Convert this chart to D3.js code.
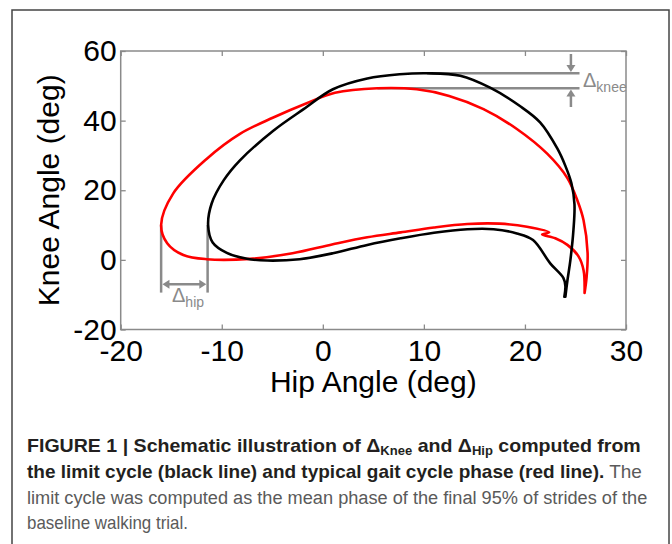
<!DOCTYPE html>
<html>
<head>
<meta charset="utf-8">
<script src="https://cdn.jsdelivr.net/npm/d3@7"></script>
<style>
  html, body { margin: 0; padding: 0; background: #fff; }
  svg { display: block; }
</style>
</head>
<body>
<svg id="chart" width="672" height="544"></svg>
<script>
// ---------- data ----------
const xTicks = [-20, -10, 0, 10, 20, 30];
const yTicks = [-20, 0, 20, 40, 60];

// limit cycle (black line)
const limitHip  = [24.0, 24.2, 24.5, 24.8, 24.9, 24.6, 24.0, 23.2, 21.5, 19.5, 16.6, 13.6, 10.3, 7.6, 4.4, 1.0, -1.9, -4.9, -8.2, -9.8, -11.0, -11.35, -10.9, -9.5, -7.5, -5.5, -2.3, 1.0, 4.4, 7.7, 11.0, 14.3, 16.9, 19.2, 20.8, 22.5, 23.8, 24.0, 23.9];
const limitKnee = [-10.6, -6.0, 0.0, 8.6, 16.0, 22.0, 27.0, 32.0, 39.5, 44.2, 49.4, 52.9, 53.6, 53.3, 52.1, 49.0, 43.3, 37.1, 28.6, 22.9, 16.2, 10.0, 5.0, 2.0, 0.3, -0.2, 0.2, 1.9, 4.3, 6.2, 7.8, 8.8, 8.8, 7.6, 5.7, -1.0, -5.2, -7.5, -10.6];

// typical gait cycle phase (red line)
const gaitHip  = [25.9, 26.1, 26.2, 25.8, 25.2, 24.2, 22.2, 19.2, 15.9, 12.5, 9.3, 5.4, 1.2, -1.6, -4.9, -8.2, -11.5, -14.8, -16.0, -15.4, -13.8, -11.5, -7.2, -3.0, 1.0, 4.4, 7.7, 11.0, 14.3, 17.5, 20.2, 22.4, 21.7, 23.0, 24.2, 25.3, 25.8, 25.9];
const gaitKnee = [-9.5, -5.0, 2.0, 11.4, 17.0, 23.5, 30.5, 37.6, 43.3, 47.1, 49.0, 49.3, 48.0, 45.0, 40.9, 36.2, 29.0, 19.1, 10.0, 4.8, 1.4, 0.2, 0.3, 1.9, 4.5, 6.5, 7.9, 9.3, 10.3, 10.4, 9.5, 7.9, 7.3, 6.2, 4.3, 1.0, -3.0, -9.5];

// annotation values (data units)
const kneeMax = [10.3, 53.6];    // limit cycle peak: hip, knee
const kneeMaxGait = [5.4, 49.3]; // gait peak: hip, knee
const kneeLineEnd = 25.4;
const kneeArrowHip = 24.55;
const hipMin = [-11.4, 10.0];    // limit cycle min hip
const hipMinGait = [-16.0, 10.0];
const hipLineBottom = -9.4;
const hipArrowKnee = -7.0;

// ---------- drawing ----------
const svg = d3.select("#chart");
const grey = "#8a8a8a";
const font = "'Liberation Sans', Arial, Helvetica, sans-serif";

// outer frame
svg.append("rect").attr("x", 12).attr("y", 10).attr("width", 657).attr("height", 560)
  .attr("fill", "none").attr("stroke", "#444").attr("stroke-width", 1.5);

const x = d3.scaleLinear().domain([-20, 30]).range([120.7, 626]);
const y = d3.scaleLinear().domain([-20, 60]).range([329.5, 51]);

const g = svg.append("g");
const fmt = d => String(d);

// axes
function styleAxis(sel, showText) {
  sel.select(".domain").remove();
  sel.selectAll(".tick line").attr("stroke", grey).attr("stroke-width", 1.3);
  sel.selectAll(".tick text").attr("fill", "#000").attr("font-family", font).attr("font-size", 30);
  if (!showText) sel.selectAll(".tick text").remove();
}
g.append("g").attr("transform", `translate(0,${y(-20)})`)
  .call(d3.axisBottom(x).tickValues(xTicks).tickFormat(fmt).tickSizeInner(-5).tickSizeOuter(0).tickPadding(10))
  .call(s => styleAxis(s, true));
g.append("g").attr("transform", `translate(${x(-20)},0)`)
  .call(d3.axisLeft(y).tickValues(yTicks).tickFormat(fmt).tickSizeInner(-5).tickSizeOuter(0).tickPadding(4))
  .call(s => styleAxis(s, true));
g.append("g").attr("transform", `translate(0,${y(60)})`)
  .call(d3.axisTop(x).tickValues(xTicks).tickSizeInner(-5).tickSizeOuter(0))
  .call(s => styleAxis(s, false));
g.append("g").attr("transform", `translate(${x(30)},0)`)
  .call(d3.axisRight(y).tickValues(yTicks).tickSizeInner(-5).tickSizeOuter(0))
  .call(s => styleAxis(s, false));

// box
g.append("rect").attr("x", x(-20)).attr("y", y(60)).attr("width", x(30) - x(-20)).attr("height", y(-20) - y(60))
  .attr("fill", "none").attr("stroke", grey).attr("stroke-width", 1.5);

// axis titles
g.append("text").attr("x", (x(-20) + x(30)) / 2).attr("y", 392).attr("text-anchor", "middle")
  .attr("font-family", font).attr("font-size", 30).attr("fill", "#000").text("Hip Angle (deg)");
g.append("text").attr("transform", `translate(59,${(y(-20) + y(60)) / 2}) rotate(-90)`).attr("text-anchor", "middle")
  .attr("font-family", font).attr("font-size", 30).attr("fill", "#000").text("Knee Angle (deg)");

// annotation lines (grey), drawn under the curves
const ann = g.append("g").attr("stroke", grey).attr("stroke-width", 2.5).attr("fill", "none");
ann.append("line").attr("x1", x(kneeMax[0])).attr("x2", x(kneeLineEnd)).attr("y1", y(kneeMax[1])).attr("y2", y(kneeMax[1]));
ann.append("line").attr("x1", x(kneeMaxGait[0])).attr("x2", x(kneeLineEnd)).attr("y1", y(kneeMaxGait[1])).attr("y2", y(kneeMaxGait[1]));
ann.append("line").attr("x1", x(hipMin[0])).attr("x2", x(hipMin[0])).attr("y1", y(hipMin[1])).attr("y2", y(hipLineBottom));
ann.append("line").attr("x1", x(hipMinGait[0])).attr("x2", x(hipMinGait[0])).attr("y1", y(hipMinGait[1])).attr("y2", y(hipLineBottom));

// curves
const line = d3.line().x(d => x(d[0])).y(d => y(d[1])).curve(d3.curveCatmullRom.alpha(0.5));
const limitPts = limitHip.map((h, i) => [h, limitKnee[i]]);
const gaitPts = gaitHip.map((h, i) => [h, gaitKnee[i]]);
g.append("path").datum(gaitPts).attr("d", line).attr("fill", "none").attr("stroke", "#ff0000")
  .attr("stroke-width", 2.6).attr("stroke-linejoin", "round").attr("stroke-linecap", "round");
g.append("path").datum(limitPts).attr("d", line).attr("fill", "none").attr("stroke", "#000")
  .attr("stroke-width", 2.6).attr("stroke-linejoin", "round").attr("stroke-linecap", "round");

// arrows
const arr = g.append("g");
const ax = x(kneeArrowHip);
const yTop = y(kneeMax[1]) - 1.3, yBot = y(kneeMaxGait[1]) + 1.3;
arr.append("line").attr("x1", ax).attr("x2", ax).attr("y1", 54).attr("y2", yTop - 5).attr("stroke", grey).attr("stroke-width", 2.5);
arr.append("path").attr("d", `M${ax - 4.5},${yTop - 7}L${ax + 4.5},${yTop - 7}L${ax},${yTop}Z`).attr("fill", grey);
arr.append("line").attr("x1", ax).attr("x2", ax).attr("y1", 107).attr("y2", yBot + 5).attr("stroke", grey).attr("stroke-width", 2.5);
arr.append("path").attr("d", `M${ax - 4.5},${yBot + 7}L${ax + 4.5},${yBot + 7}L${ax},${yBot}Z`).attr("fill", grey);

const hy = y(hipArrowKnee);
const hl = x(hipMinGait[0]) + 1.3, hr = x(hipMin[0]) - 1.3;
arr.append("line").attr("x1", hl + 5).attr("x2", hr - 5).attr("y1", hy).attr("y2", hy).attr("stroke", grey).attr("stroke-width", 2.5);
arr.append("path").attr("d", `M${hl + 7},${hy - 4.5}L${hl + 7},${hy + 4.5}L${hl},${hy}Z`).attr("fill", grey);
arr.append("path").attr("d", `M${hr - 7},${hy - 4.5}L${hr - 7},${hy + 4.5}L${hr},${hy}Z`).attr("fill", grey);

// delta labels
const t1 = g.append("text").attr("x", 583).attr("y", 87).attr("font-family", font).attr("fill", grey).attr("font-size", 20);
t1.append("tspan").text("Δ");
t1.append("tspan").attr("font-size", 14).attr("dy", 5).text("knee");
const t2 = g.append("text").attr("x", 172).attr("y", 302).attr("font-family", font).attr("fill", grey).attr("font-size", 20);
t2.append("tspan").text("Δ");
t2.append("tspan").attr("font-size", 14).attr("dy", 5).text("hip");

// caption
const cap = svg.append("g").attr("font-family", font).attr("font-size", 18);
function capLine(yb, parts, width) {
  const t = cap.append("text").attr("x", 0).attr("y", 0);
  let shifted = false;
  parts.forEach(p => {
    const ts = t.append("tspan").text(p.t)
      .attr("font-weight", p.b ? "bold" : "normal")
      .attr("fill", p.b ? "#231f20" : "#5a5a5a");
    if (p.sub) { ts.attr("font-size", 12).attr("dy", 3); shifted = true; }
    else if (shifted) { ts.attr("dy", -3); shifted = false; }
  });
  const w = t.node().getBBox().width;
  const sx = width ? width / w : 1;
  t.attr("transform", `translate(27,${yb}) scale(${sx},1)`);
}
capLine(452, [
  {t: "FIGURE 1 | Schematic illustration of ", b: true},
  {t: "Δ", b: true}, {t: "Knee", b: true, sub: true},
  {t: " and ", b: true},
  {t: "Δ", b: true}, {t: "Hip", b: true, sub: true},
  {t: " computed from", b: true}
], 614);
capLine(478, [
  {t: "the limit cycle (black line) and typical gait cycle phase (red line).", b: true},
  {t: " The", b: false}
], 615);
capLine(504, [
  {t: "limit cycle was computed as the mean phase of the final 95% of strides of the", b: false}
], 621);
capLine(529, [
  {t: "baseline walking trial.", b: false}
], 161);
</script>
</body>
</html>
